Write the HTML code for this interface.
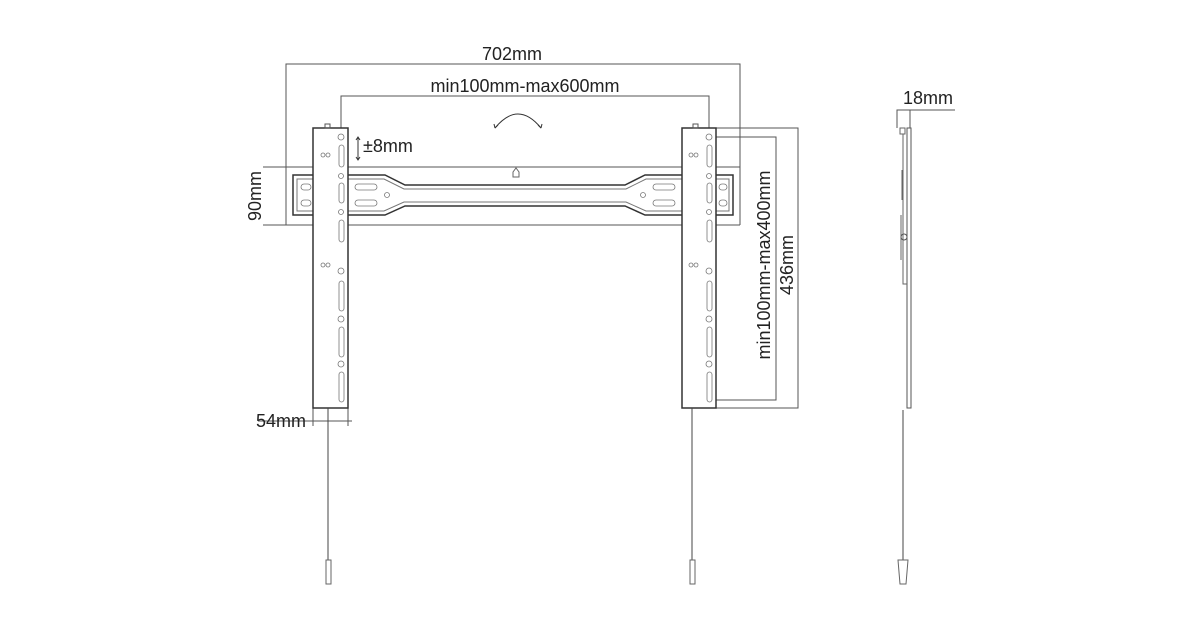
<!DOCTYPE html>
<html><head><style>body{margin:0;background:#fff}svg{display:block}text{font-family:"Liberation Sans",sans-serif;fill:#222}</style></head><body>
<svg width="1200" height="630" viewBox="0 0 1200 630" xmlns="http://www.w3.org/2000/svg">
<g fill="none" stroke="#555" stroke-width="1">
<path d="M286 225V64H740V225"/>
<path d="M341 137V96H709V137"/>
<path d="M263 167H740M263 225H740"/>
<path d="M716 128H798V408H716M712 137H776V400H712"/>
<path d="M258 421H352M313 408V426M348 408V426"/>
<path d="M897 128V110H955M910 110V128"/>
<path d="M313 175H293V215H313M348 175H385L405 185H625L645 175H682M716 175H733V215H716M682 215H645L625 206H405L385 215H348" stroke="#333" stroke-width="1.5"/>
<path d="M313 179H297V211H313M348 179H384L404 189H626L646 179H682M716 179H729V211H716M682 211H646L626 202H404L384 211H348" stroke="#777"/>
<rect x="313" y="128" width="35" height="280" stroke="#333" stroke-width="1.5" fill="#fff"/>
<rect x="682" y="128" width="34" height="280" stroke="#333" stroke-width="1.5" fill="#fff"/>
<rect x="325" y="124" width="5" height="4"/><rect x="693" y="124" width="5" height="4"/>
<path d="M495 128Q518 100 541 128" stroke="#333"/>
<path d="M495 128l-1-4M495 128l3-3M541 128l1-4M541 128l-3-3" stroke="#333"/>
<path d="M513 172l3-4 3 4v5h-6z" stroke="#666"/>
<path d="M358 137V160M356 140l2-3 2 3M356 157l2 3 2-3" stroke="#333"/>
<path d="M328 408V560M692 408V560M903 410V560" stroke="#444"/>
<rect x="326" y="560" width="5" height="24" stroke="#666"/>
<rect x="690" y="560" width="5" height="24" stroke="#666"/>
<path d="M898 560h10l-2 24h-6z" stroke="#666"/>
<rect x="907" y="128" width="4" height="280" stroke="#555"/>
<path d="M900 128h5v6h-5zM903 134v150h4M902 170v30M901 215v45" stroke="#666"/>
<circle cx="904" cy="237" r="3"/>
</g>
<g fill="none" stroke="#777" stroke-width="0.8">
<circle cx="341" cy="137" r="3"/><rect x="339" y="145" width="5" height="22" rx="2.5"/>
<circle cx="341" cy="176" r="2.5"/><rect x="339" y="183" width="5" height="20" rx="2.5"/>
<circle cx="341" cy="212" r="2.5"/><rect x="339" y="220" width="5" height="22" rx="2.5"/>
<circle cx="341" cy="271" r="3"/><rect x="339" y="281" width="5" height="30" rx="2.5"/>
<circle cx="341" cy="319" r="3"/><rect x="339" y="327" width="5" height="30" rx="2.5"/>
<circle cx="341" cy="364" r="3"/><rect x="339" y="372" width="5" height="30" rx="2.5"/>
<circle cx="323" cy="155" r="2"/><circle cx="328" cy="155" r="2"/>
<circle cx="323" cy="265" r="2"/><circle cx="328" cy="265" r="2"/>
<rect x="355" y="184" width="22" height="6" rx="3"/><rect x="355" y="200" width="22" height="6" rx="3"/>
<rect x="301" y="184" width="10" height="6" rx="3"/><rect x="301" y="200" width="10" height="6" rx="3"/>
<circle cx="387" cy="195" r="2.5"/>
<circle cx="709" cy="137" r="3"/><rect x="707" y="145" width="5" height="22" rx="2.5"/>
<circle cx="709" cy="176" r="2.5"/><rect x="707" y="183" width="5" height="20" rx="2.5"/>
<circle cx="709" cy="212" r="2.5"/><rect x="707" y="220" width="5" height="22" rx="2.5"/>
<circle cx="709" cy="271" r="3"/><rect x="707" y="281" width="5" height="30" rx="2.5"/>
<circle cx="709" cy="319" r="3"/><rect x="707" y="327" width="5" height="30" rx="2.5"/>
<circle cx="709" cy="364" r="3"/><rect x="707" y="372" width="5" height="30" rx="2.5"/>
<circle cx="691" cy="155" r="2"/><circle cx="696" cy="155" r="2"/>
<circle cx="691" cy="265" r="2"/><circle cx="696" cy="265" r="2"/>
<rect x="653" y="184" width="22" height="6" rx="3"/><rect x="653" y="200" width="22" height="6" rx="3"/>
<rect x="719" y="184" width="8" height="6" rx="3"/><rect x="719" y="200" width="8" height="6" rx="3"/>
<circle cx="643" cy="195" r="2.5"/>
</g>
<g font-size="18">
<text x="512" y="60" text-anchor="middle">702mm</text>
<text x="525" y="92" text-anchor="middle">min100mm-max600mm</text>
<text x="363" y="152">±8mm</text>
<text x="256" y="427">54mm</text>
<text x="903" y="104">18mm</text>
<text transform="translate(261 196) rotate(-90)" text-anchor="middle">90mm</text>
<text transform="translate(770 265) rotate(-90)" text-anchor="middle">min100mm-max400mm</text>
<text transform="translate(793 265) rotate(-90)" text-anchor="middle">436mm</text>
</g>
</svg>
</body></html>
